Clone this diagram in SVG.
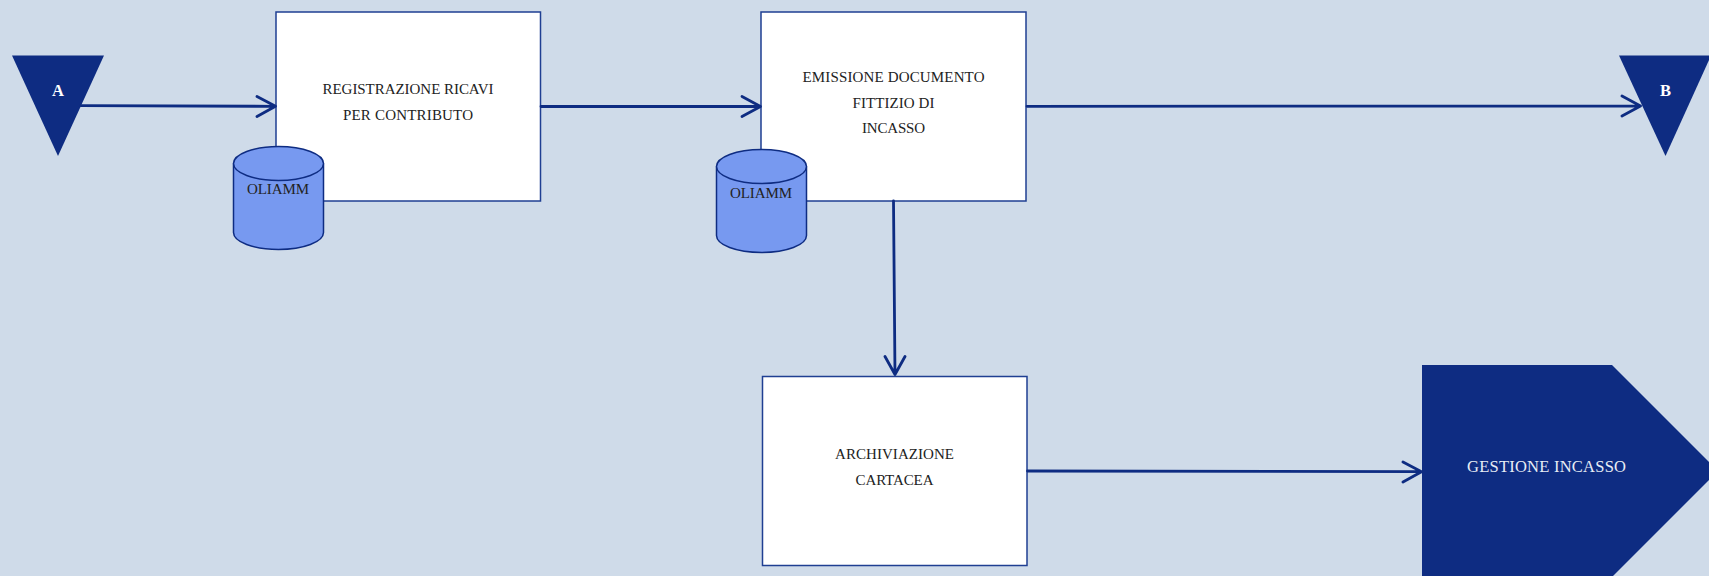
<svg xmlns="http://www.w3.org/2000/svg" width="1709" height="576" viewBox="0 0 1709 576">
<style>
.bg{fill:#cfdbe9}
.box{fill:#fff;stroke:#1f3f92;stroke-width:1.5}
.navy{fill:#0e2c82}
.cyl{fill:#7799f0;stroke:#0e2c82;stroke-width:1.5}
.t{font-family:"Liberation Serif",serif;font-size:15px;fill:#222;text-anchor:middle}
.w{font-family:"Liberation Serif",serif;font-size:16.5px;fill:#e8edf5;text-anchor:middle}
.l{font-family:"Liberation Serif",serif;font-size:16.5px;font-weight:bold;fill:#fff;text-anchor:middle}
.c{fill:none;stroke:#0e2c82;stroke-width:2.8;stroke-linecap:round;stroke-linejoin:round}
</style>
<rect class="bg" width="1709" height="576"/>
<g id="node-A"><polygon class="navy" points="12,55.5 104,55.5 58,156"/><text class="l" x="58" y="96">A</text></g>
<g id="node-B"><polygon class="navy" points="1619,55.5 1711,55.5 1665.5,156"/><text class="l" x="1665.5" y="96">B</text></g>
<g id="node-registrazione"><rect class="box" x="276" y="12" width="264.5" height="189"/><text class="t" x="408" y="94" textLength="171">REGISTRAZIONE RICAVI</text><text class="t" x="408" y="120" textLength="130">PER CONTRIBUTO</text></g>
<g id="node-emissione"><rect class="box" x="761" y="12" width="265" height="189"/><text class="t" x="893.5" y="81.5" textLength="182">EMISSIONE DOCUMENTO</text><text class="t" x="893.5" y="107.5" textLength="82">FITTIZIO DI</text><text class="t" x="893.5" y="133" textLength="63">INCASSO</text></g>
<g id="node-archiviazione"><rect class="box" x="762.5" y="376.5" width="264.5" height="189"/><text class="t" x="894.5" y="459" textLength="119">ARCHIVIAZIONE</text><text class="t" x="894.5" y="485" textLength="78">CARTACEA</text></g>
<g id="node-oliamm1"><path class="cyl" d="M233.5 163.5v69c0 9.4 20 17 45 17s45-7.6 45-17v-69"/><ellipse class="cyl" cx="278.5" cy="163.5" rx="45" ry="17"/><text class="t" x="278" y="194" textLength="62">OLIAMM</text></g>
<g id="node-oliamm2"><path class="cyl" d="M716.5 166.5v69c0 9.4 20 17 45 17s45-7.6 45-17v-69"/><ellipse class="cyl" cx="761.5" cy="166.5" rx="45" ry="17"/><text class="t" x="761" y="198" textLength="62">OLIAMM</text></g>
<g id="node-gestione"><polygon class="navy" points="1422,365 1612,365 1718,471 1612,577 1422,577"/><text class="w" x="1546.5" y="472" textLength="159">GESTIONE INCASSO</text></g>
<g id="connectors">
<path class="c" d="M81 105.7L275 106.3M257 96.5L275.5 106.3L257 116.5"/>
<path class="c" d="M541 106.5H760M742 96.5L760.5 106.5L742 116.5"/>
<path class="c" d="M1027 106.3L1640 106M1622 96L1640.5 106L1622 116"/>
<path class="c" d="M893.5 201L895 374.5M885 356.5L895 374.5L905 356.5"/>
<path class="c" d="M1027.5 471L1421 471.7M1403 462L1421.5 471.7L1403 482"/>
</g>
</svg>
